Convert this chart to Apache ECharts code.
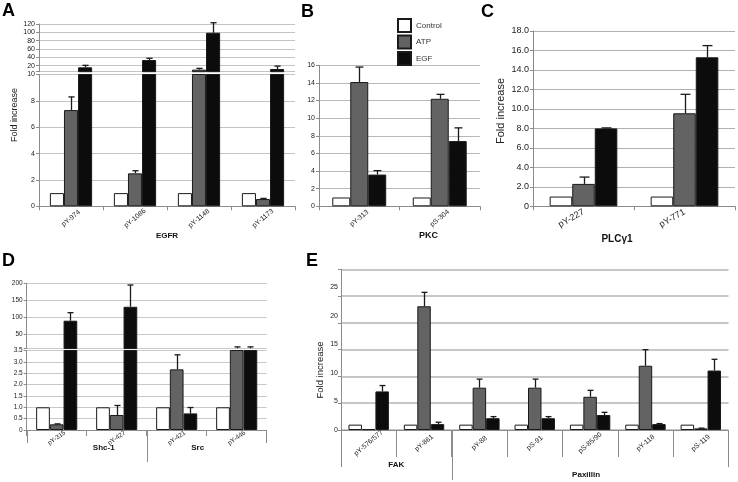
<!DOCTYPE html>
<html><head><meta charset="utf-8">
<script src="https://cdn.jsdelivr.net/npm/echarts@6/dist/echarts.min.js"></script>
<style>html,body{margin:0;padding:0;background:#fff}#c{width:738px;height:482px}</style>
</head><body><div id="c"></div>
<script>
// ================= DATA =================
const seriesNames = ['Control', 'ATP', 'EGF'];

// Panel A (EGFR) - broken axis
const aCategories = ['pY-974', 'pY-1086', 'pY-1148', 'pY-1173'];
const aControl = [1, 1, 1, 1];
const aATP = [7.3, 2.5, 10.5, 0.55];
const aEGF = [16, 33.5, 99, 12];
const aControlErr = [0, 0, 0, 0];
const aATPErr = [1.0, 0.2, 3, 0.05];
const aEGFErr = [4.8, 4.2, 24, 7];
const aLowerTicks = [0, 2, 4, 6, 8, 10];
const aUpperTicks = [20, 40, 60, 80, 100, 120];
const aGroup = 'EGFR';

// Panel B (PKC)
const bCategories = ['pY-313', 'pS-304'];
const bControl = [1, 1];
const bATP = [14.1, 12.2];
const bEGF = [3.6, 7.4];
const bControlErr = [0, 0];
const bATPErr = [1.7, 0.5];
const bEGFErr = [0.45, 1.5];
const bTicks = [0, 2, 4, 6, 8, 10, 12, 14, 16];
const bGroup = 'PKC';

// Panel C (PLCγ1)
const cCategories = ['pY-227', 'pY-771'];
const cControl = [1, 1];
const cATP = [2.3, 9.55];
const cEGF = [8.0, 15.3];
const cControlErr = [0, 0];
const cATPErr = [0.7, 1.95];
const cEGFErr = [0.05, 1.2];
const cTicks = [0, 2, 4, 6, 8, 10, 12, 14, 16, 18];
const cGroup = 'PLCγ1';

// Panel D (Shc-1, Src) - broken axis
const dCategories = ['pY-315', 'pY-427', 'pY-421', 'pY-446'];
const dControl = [1, 1, 1, 1];
const dATP = [0.25, 0.66, 2.67, 3.6];
const dEGF = [90, 131, 0.73, 3.6];
const dControlErr = [0, 0, 0, 0];
const dATPErr = [0.02, 0.42, 0.64, 0.06];
const dEGFErr = [23.6, 64, 0.26, 0.06];
const dLowerTicks = [0, 0.5, 1, 1.5, 2, 2.5, 3, 3.5];
const dUpperTicks = [50, 100, 150, 200];
const dGroups = ['Shc-1', 'Src'];
const dGroupStart = [0, 2];
const dGroupEnd = [1, 3];

// Panel E (FAK, Paxillin)
const eCategories = ['pY-576/577', 'pY-861', 'pY-88', 'pS-91', 'pS-85/90', 'pY-118', 'pS-119'];
const eControl = [1, 1, 1, 1, 1, 1, 1];
const eATP = [0.15, 23.1, 7.9, 7.9, 6.2, 12.0, 0.3];
const eEGF = [7.2, 1.1, 2.2, 2.2, 2.8, 1.1, 11.1];
const eControlErr = [0, 0, 0, 0, 0, 0, 0];
const eATPErr = [0, 2.6, 1.6, 1.6, 1.2, 3.0, 0.05];
const eEGFErr = [1.1, 0.35, 0.3, 0.3, 0.5, 0.1, 2.1];
const eGridTicks = [0, 5, 10, 15, 20, 25, 30];
const eLabelTicks = [0, 5, 10, 15, 20, 25];
const eGroups = ['FAK', 'Paxillin'];
const eGroupStart = [0, 2];
const eGroupEnd = [1, 6];

// ================= STYLE / LAYOUT =================
const FONT = 'Liberation Sans, Arial, Helvetica, sans-serif';
const AXIS_COLOR = '#8c8c8c';
const LABEL_COLOR = '#222';
const COLORS = ['#ffffff', '#636363', '#0c0c0c'];
const A_BREAK = 5.5, D_BREAK = 8;
const GAP = {A: 0.34, B: 0.33, C: 0.33, D: 0.315, E: 0.27};

const chart = echarts.init(document.getElementById('c'), null, {renderer: 'canvas', width: 738, height: 482});

function yAx(grid, ticks, o) {
  o = o || {};
  const min = o.min !== undefined ? o.min : ticks[0];
  const step = ticks[1] - ticks[0];
  const ax = {
    type: 'value', gridIndex: grid, min: min, position: 'left', offset: 0,
    max: o.max !== undefined ? o.max : ticks[ticks.length - 1],
    axisLine: {show: o.line !== false, lineStyle: {color: AXIS_COLOR}},
    axisTick: {show: o.line !== false, length: 3, lineStyle: {color: AXIS_COLOR}},
    axisLabel: {show: o.labels !== false, fontSize: o.fs || 7, color: LABEL_COLOR, margin: o.margin || 4, fontFamily: FONT,
      formatter: function (v) {
        const k = ticks.findIndex(t => Math.abs(t - v) < 1e-6);
        if (k < 0) return '';
        return o.fmt ? o.fmt(v) : String(v);
      }},
    splitLine: {show: o.split !== false, lineStyle: {color: o.gc || '#c4c4c4', width: o.gw || 1}}
  };
  if (Math.abs(min - ticks[0]) < 1e-9) ax.interval = step;
  else { ax.minInterval = step; ax.maxInterval = step; ax.splitNumber = ticks.length; }
  return ax;
}

function xAx(grid, cats, o) {
  o = o || {};
  const ax = {
    type: 'category', gridIndex: grid, data: cats, show: o.show !== false,
    axisLine: {show: true, lineStyle: {color: AXIS_COLOR}},
    axisTick: {show: true, length: o.tick || 4, interval: 0, lineStyle: {color: AXIS_COLOR}},
    axisLabel: {interval: 0, rotate: o.rot || 0, fontSize: o.fs || 7, color: LABEL_COLOR,
      margin: o.margin || 4, fontFamily: FONT},
    splitLine: {show: false}
  };
  if (o.align) ax.axisLabel.align = o.align;
  if (o.name) {
    ax.name = o.name; ax.nameLocation = 'middle'; ax.nameGap = o.nameGap;
    ax.nameTextStyle = {fontWeight: 'bold', fontSize: o.nameFs || 8, color: '#111', fontFamily: FONT,
      padding: o.namePad || 0, verticalAlign: 'top'};
  }
  return ax;
}

function barSeries(xi, yi, arrs, gap, keep) {
  return arrs.map((arr, s) => ({
    type: 'bar', name: seriesNames[s], xAxisIndex: xi, yAxisIndex: yi,
    data: keep ? arr.map(v => keep(v) ? v : '-') : arr.slice(),
    barGap: '0%', barCategoryGap: (gap * 100) + '%',
    itemStyle: {color: COLORS[s], borderColor: '#1a1a1a', borderWidth: 1},
    clip: true, silent: true, animation: false, z: 2
  }));
}

function errSeries(xi, yi, valArrs, errArrs, gap, keep) {
  const data = [];
  valArrs.forEach((arr, s) => arr.forEach((v, i) => {
    const e = errArrs[s][i];
    if (e > 0 && (!keep || keep(v))) data.push([i, s, v, e]);
  }));
  return {
    type: 'custom', xAxisIndex: xi, yAxisIndex: yi, data: data, clip: false, silent: true, z: 5,
    animation: false, encode: {x: 0, y: 2},
    renderItem: function (p, api) {
      const cat = api.value(0), s = api.value(1), v = api.value(2), e = api.value(3);
      const band = api.size([1, 0])[0];
      const bw = band * (1 - gap) / 3;
      const base = api.coord([cat, v]);
      const top = api.coord([cat, v + e]);
      const x = Math.round(base[0] + (s - 1) * bw) + 0.5;
      const cap = Math.max(2.5, bw * 0.22);
      const st = {stroke: '#1a1a1a', lineWidth: 1.3};
      return {type: 'group', children: [
        {type: 'line', shape: {x1: x, y1: base[1], x2: x, y2: top[1]}, style: st},
        {type: 'line', shape: {x1: x - cap, y1: top[1], x2: x + cap, y2: top[1]}, style: st}
      ]};
    }
  };
}

function groupSeries(xi, yi, names, starts, ends, lay) {
  return {
    type: 'custom', xAxisIndex: xi, yAxisIndex: yi, clip: false, silent: true, z: 5, animation: false,
    data: names.map((n, g) => [starts[g], ends[g], g]),
    encode: {x: 0},
    renderItem: function (p, api) {
      const g = api.value(2);
      const band = api.size([1, 0])[0];
      const a = api.coord([api.value(0), 0]);
      const b = api.coord([api.value(1), 0]);
      const x0 = a[0] - band / 2, x1 = b[0] + band / 2, y0 = a[1];
      const st = {stroke: AXIS_COLOR, lineWidth: 1};
      const L0 = g === 0 ? lay.outer : lay.inner;
      const ch = [{type: 'line', shape: {x1: Math.round(x0) + 0.5, y1: y0, x2: Math.round(x0) + 0.5, y2: y0 + L0}, style: st}];
      if (g === names.length - 1) ch.push({type: 'line', shape: {x1: Math.round(x1) - 0.5, y1: y0, x2: Math.round(x1) - 0.5, y2: y0 + lay.outer}, style: st});
      ch.push({type: 'text', x: (x0 + x1) / 2 + lay.dx[g], y: y0 + lay.ty[g],
        style: {text: names[g], fontSize: lay.fs, fontWeight: 'bold', fill: '#111', fontFamily: FONT,
          align: 'center', verticalAlign: 'middle'}});
      return {type: 'group', children: ch};
    }
  };
}

const decFmt = v => v === 0 ? '0' : v.toFixed(1);

const option = {
  animation: false,
  textStyle: {fontFamily: FONT},
  legend: {
    data: seriesNames, orient: 'vertical', left: 392, top: 13, itemWidth: 13, itemHeight: 13, itemGap: 1.5,
    icon: 'rect', selectedMode: false, textStyle: {fontSize: 8, color: '#333', fontFamily: FONT}
  },
  grid: [
    {left: 39, top: 74.5, width: 256, height: 131.8},   // 0 A lower
    {left: 39, top: 24, width: 256, height: 47.7},      // 1 A upper
    {left: 319, top: 65.3, width: 161, height: 141},    // 2 B
    {left: 533, top: 31, width: 202, height: 175.3},    // 3 C
    {left: 26.7, top: 350.5, width: 240, height: 79.5}, // 4 D lower
    {left: 26.7, top: 283.3, width: 240, height: 65.3}, // 5 D upper
    {left: 341, top: 269.3, width: 387.5, height: 160.7} // 6 E
  ],
  xAxis: [
    xAx(0, aCategories, {rot: 40, fs: 7, margin: 12, align: 'center', name: aGroup, nameGap: 22, nameFs: 8}),
    xAx(1, aCategories, {show: false}),
    xAx(2, bCategories, {rot: 40, fs: 7, margin: 12, align: 'center', name: bGroup, nameGap: 22, nameFs: 9, namePad: [0, 0, 0, 58]}),
    xAx(3, cCategories, {rot: 30, fs: 9, margin: 5, name: cGroup, nameGap: 28, nameFs: 10, namePad: [0, 34, 0, 0]}),
    xAx(4, dCategories, {rot: 35, fs: 6.5, margin: 8, align: 'center', tick: 6}),
    xAx(5, dCategories, {show: false}),
    xAx(6, eCategories, {rot: 40, fs: 7, margin: 13, align: 'center', tick: 27})
  ],
  yAxis: [
    yAx(0, aLowerTicks, {fs: 7}),
    yAx(1, aUpperTicks, {min: A_BREAK, fs: 7}),
    yAx(2, bTicks, {fs: 7, gc: '#b8b8b8'}),
    yAx(3, cTicks, {fs: 9, fmt: decFmt, gc: '#b0b0b0'}),
    yAx(4, dLowerTicks, {fs: 6.5, fmt: decFmt, gc: '#c8c8c8'}),
    yAx(5, dUpperTicks, {min: D_BREAK, fs: 6.5, gc: '#c8c8c8'}),
    yAx(6, eGridTicks, {labels: false, gc: '#b4b4b4', gw: 1.5}),
    yAx(6, eLabelTicks, {max: 28.1, fs: 7, line: false, split: false, margin: 3})
  ],
  graphic: [
    {type: 'text', left: 2, top: 2, style: {text: 'A', fontSize: 18, fontWeight: 'bold', fill: '#000', fontFamily: FONT}},
    {type: 'text', left: 301, top: 3, style: {text: 'B', fontSize: 18, fontWeight: 'bold', fill: '#000', fontFamily: FONT}},
    {type: 'text', left: 481, top: 3, style: {text: 'C', fontSize: 18, fontWeight: 'bold', fill: '#000', fontFamily: FONT}},
    {type: 'text', left: 2, top: 252, style: {text: 'D', fontSize: 18, fontWeight: 'bold', fill: '#000', fontFamily: FONT}},
    {type: 'text', left: 306, top: 252, style: {text: 'E', fontSize: 18, fontWeight: 'bold', fill: '#000', fontFamily: FONT}},
    {type: 'text', x: 15, y: 115, rotation: Math.PI / 2, style: {text: 'Fold increase', fontSize: 9, fill: '#222', fontFamily: FONT, align: 'center', verticalAlign: 'middle'}},
    {type: 'text', x: 501, y: 111, rotation: Math.PI / 2, style: {text: 'Fold increase', fontSize: 11, fill: '#222', fontFamily: FONT, align: 'center', verticalAlign: 'middle'}},
    {type: 'text', x: 320, y: 370, rotation: Math.PI / 2, style: {text: 'Fold increase', fontSize: 9.5, fill: '#222', fontFamily: FONT, align: 'center', verticalAlign: 'middle'}}
  ],
  series: [].concat(
    barSeries(0, 0, [aControl, aATP, aEGF], GAP.A),
    barSeries(1, 1, [aControl, aATP, aEGF], GAP.A, v => v > 10),
    errSeries(0, 0, [aControl, aATP, aEGF], [aControlErr, aATPErr, aEGFErr], GAP.A, v => v <= 10),
    errSeries(1, 1, [aControl, aATP, aEGF], [aControlErr, aATPErr, aEGFErr], GAP.A, v => v > 10),
    barSeries(2, 2, [bControl, bATP, bEGF], GAP.B),
    errSeries(2, 2, [bControl, bATP, bEGF], [bControlErr, bATPErr, bEGFErr], GAP.B),
    barSeries(3, 3, [cControl, cATP, cEGF], GAP.C),
    errSeries(3, 3, [cControl, cATP, cEGF], [cControlErr, cATPErr, cEGFErr], GAP.C),
    barSeries(4, 4, [dControl, dATP, dEGF], GAP.D),
    barSeries(5, 5, [dControl, dATP, dEGF], GAP.D, v => v > D_BREAK),
    errSeries(4, 4, [dControl, dATP, dEGF], [dControlErr, dATPErr, dEGFErr], GAP.D, v => v <= D_BREAK),
    errSeries(5, 5, [dControl, dATP, dEGF], [dControlErr, dATPErr, dEGFErr], GAP.D, v => v > D_BREAK),
    [groupSeries(4, 4, dGroups, dGroupStart, dGroupEnd, {outer: 13, inner: 32, dx: [17, -9], ty: [18, 18], fs: 8})],
    barSeries(6, 6, [eControl, eATP, eEGF], GAP.E),
    errSeries(6, 6, [eControl, eATP, eEGF], [eControlErr, eATPErr, eEGFErr], GAP.E),
    [groupSeries(6, 6, eGroups, eGroupStart, eGroupEnd, {outer: 37, inner: 50, dx: [0, -4], ty: [35, 45], fs: 8})]
  )
};
chart.setOption(option);
</script>
</body></html>
